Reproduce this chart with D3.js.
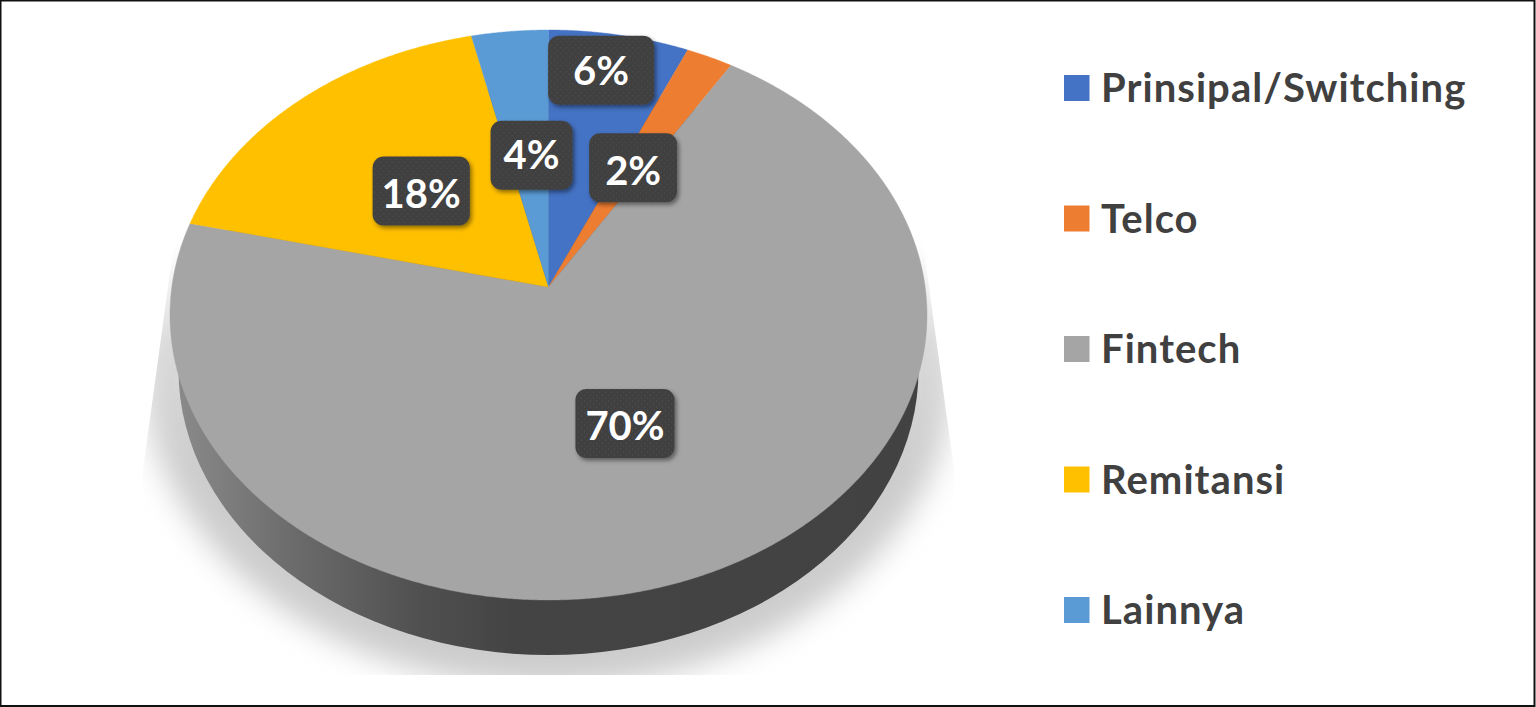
<!DOCTYPE html>
<html><head><meta charset="utf-8">
<script src="https://cdn.jsdelivr.net/npm/d3@7/dist/d3.min.js"></script>
<style>html,body{margin:0;padding:0;background:#fff;overflow:hidden}svg{display:block}</style>
</head><body><svg id="c" width="1536" height="707"></svg>
<script>
const categories = ["Prinsipal/Switching","Telco","Fintech","Remitansi","Lainnya"];
const values = [6.6,2.2,69.9,17.7,3.6];
const valueLabels = ["6%","2%","70%","18%","4%"];
const colors = ["#4472C4","#ED7D31","#A5A5A5","#FFC000","#5B9BD5"];
const labelRadius = [0.845,0.498,0.5,0.496,0.492];
const labelPad = [25,16,10,9,13];
const labelNudge = [[-8,-1],[1,0],[1,0],[0,0],[3,0]];
const labelTextDy = [-2,0,0,0,-3];

const W=1536,H=707;
const svg=d3.select("#c");
const defs=svg.append("defs");
const cx=548.5, cy=315, rx=378.5, ry=285, apexShift=-28, depth=55;
const k=apexShift/ry, a=rx*Math.sqrt(1-k*k);
// unit-disc (tilted pie plane) to screen, with perspective
function project(angle,r){
  const u=r*Math.sin(angle), v=-r*Math.cos(angle), w=1+k*v;
  return [cx+a*u/w, cy+(ry*v+apexShift)/w];
}
const pie=d3.pie().sort(null).value(d=>d);
const arcs=pie(values);
const line=d3.line();
function slicePath(d){
  const n=Math.max(4,Math.ceil((d.endAngle-d.startAngle)/0.005));
  const pts=[project(0,0)];
  d3.range(n+1).forEach(i=>pts.push(project(d.startAngle+(d.endAngle-d.startAngle)*i/n,1)));
  return line(pts)+"Z";
}
// defs
const wall=defs.append("linearGradient").attr("id","wall").attr("gradientUnits","userSpaceOnUse")
  .attr("x1",cx-rx).attr("x2",cx+rx).attr("y1",0).attr("y2",0);
[[0,"#8c8c8c"],[0.17,"#6a6a6a"],[0.33,"#505050"],[0.45,"#444"],[1,"#424242"]].forEach(s=>wall.append("stop").attr("offset",s[0]).attr("stop-color",s[1]));
defs.append("filter").attr("id","blur").attr("x","-20%").attr("y","-20%").attr("width","140%").attr("height","140%")
  .append("feGaussianBlur").attr("stdDeviation",15);
const ds=defs.append("filter").attr("id","ds").attr("x","-20%").attr("y","-20%").attr("width","150%").attr("height","150%");
ds.append("feDropShadow").attr("dx",2).attr("dy",2.5).attr("stdDeviation",2).attr("flood-color","#000").attr("flood-opacity",0.45);
const pat=defs.append("pattern").attr("id","dots").attr("patternUnits","userSpaceOnUse").attr("width",6).attr("height",6);
pat.append("rect").attr("width",6).attr("height",6).attr("fill","#3f3f3f");
[[1.5,1.5],[4.5,4.5]].forEach(p=>pat.append("circle").attr("cx",p[0]).attr("cy",p[1]).attr("r",0.9).attr("fill","#4b4b4b"));
const clip=defs.append("clipPath").attr("id","shClip");
clip.append("path").attr("d",line([[cx-372,225],[cx-406,473],[cx-406,675],[cx+406,675],[cx+406,473],[cx+372,225]])+"Z");
const fade=defs.append("linearGradient").attr("id","fadeG").attr("gradientUnits","userSpaceOnUse").attr("x1",0).attr("x2",0).attr("y1",240).attr("y2",470);
[[0,0],[0.45,0.75],[1,1]].forEach(s=>fade.append("stop").attr("offset",s[0]).attr("stop-color","#fff").attr("stop-opacity",s[1]));
defs.append("mask").attr("id","fadeM").attr("maskUnits","userSpaceOnUse").attr("x",0).attr("y",0).attr("width",W).attr("height",H)
  .append("rect").attr("width",W).attr("height",H).attr("fill","url(#fadeG)");

// shadow
svg.append("g").attr("clip-path","url(#shClip)").attr("mask","url(#fadeM)")
  .append("ellipse").attr("cx",cx).attr("cy",cy+50).attr("rx",rx+28).attr("ry",ry+37)
  .attr("fill","#cccccc").attr("filter","url(#blur)");
// side wall
svg.append("ellipse").attr("cx",cx).attr("cy",cy+depth).attr("rx",rx-8.5).attr("ry",ry).attr("fill","url(#wall)");
// top
svg.append("g").selectAll("path").data(arcs).join("path")
  .attr("d",slicePath).attr("fill",(d,i)=>colors[i]).attr("stroke",(d,i)=>colors[i]).attr("stroke-width",0.4);

// data labels
const font="Lato, sans-serif";
const lg=svg.append("g").selectAll("g").data(arcs).join("g")
  .attr("transform",(d,i)=>{const p=project((d.startAngle+d.endAngle)/2,labelRadius[i]);return `translate(${p[0]+labelNudge[i][0]},${p[1]+labelNudge[i][1]})`;});
lg.append("text").attr("text-anchor","middle").attr("y",(d,i)=>labelTextDy[i]).attr("dy","0.42em")
  .attr("font-family",font).attr("font-weight",700).attr("font-size",40).attr("fill","#fff")
  .text((d,i)=>valueLabels[i]);
lg.each(function(d,i){
  const g=d3.select(this), w=g.select("text").node().getComputedTextLength()+2*labelPad[i];
  g.insert("rect","text").attr("x",-w/2).attr("y",-34.5).attr("width",w).attr("height",69)
    .attr("rx",11).attr("fill","url(#dots)").attr("filter","url(#ds)");
});

// legend
const ly=d3.scalePoint().domain(categories).range([88,610]);
const leg=svg.append("g").selectAll("g").data(categories).join("g").attr("transform",d=>`translate(0,${ly(d)})`);
leg.append("rect").attr("x",1064).attr("y",-13).attr("width",25.5).attr("height",26).attr("fill",(d,i)=>colors[i]);
leg.append("text").attr("x",1101).attr("dy","0.35em").attr("font-family",font).attr("font-weight",700)
  .attr("font-size",40).attr("letter-spacing",1.05).attr("fill","#404040").text(d=>d);

// frame
svg.append("rect").attr("x",0.5).attr("y",0.5).attr("width",W-2).attr("height",H-1.5).attr("fill","none").attr("stroke","#111").attr("stroke-width",2);
</script></body></html>
